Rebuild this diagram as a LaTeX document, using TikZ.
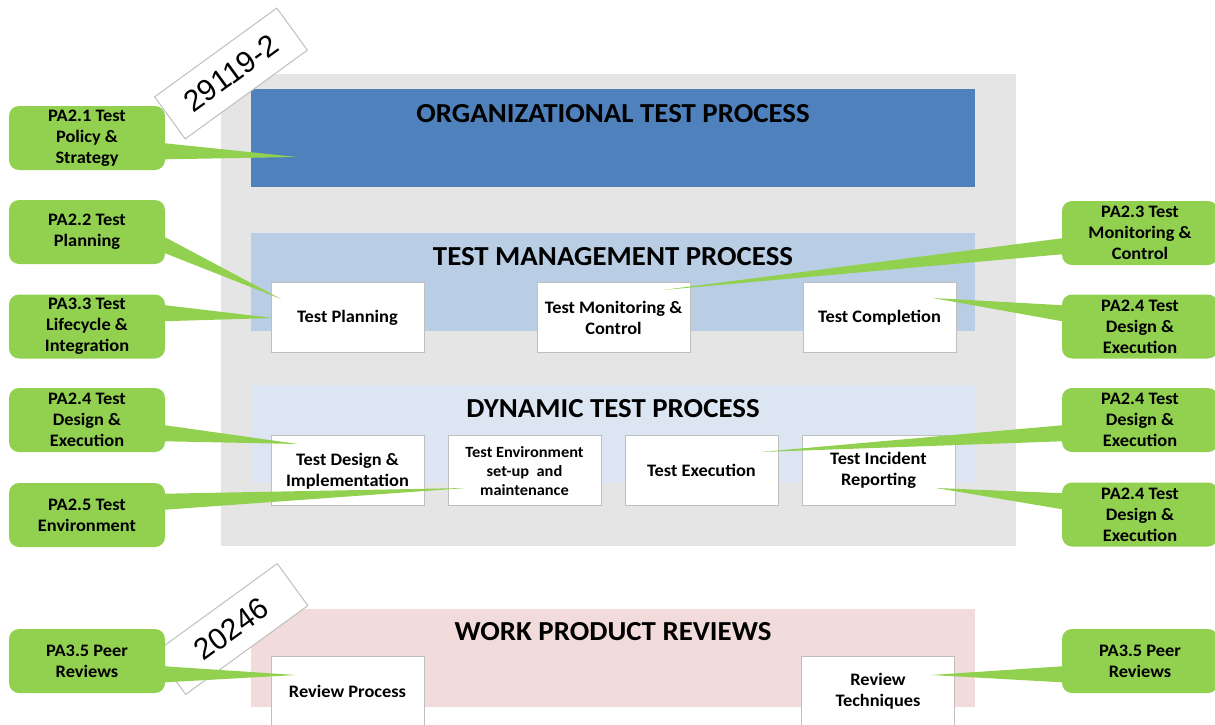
\documentclass[tikz,border=0pt]{standalone}
\usepackage{fontspec}
\setmainfont[FakeStretch=1.05]{Carlito}
\newfontfamily\tagfont{Liberation Sans}
\usetikzlibrary{positioning, calc}
\definecolor{panelgray}{HTML}{E5E5E5}
\definecolor{orgblue}{HTML}{4F81BD}
\definecolor{mgmtblue}{HTML}{B9CDE5}
\definecolor{dynblue}{HTML}{DCE6F2}
\definecolor{reviewpink}{HTML}{F2DCDB}
\definecolor{callgreen}{HTML}{92D050}
\definecolor{edgegray}{HTML}{BFBFBF}
\tikzset{
  band/.style={rectangle, fill=#1, minimum width=724pt, minimum height=98pt,
               inner sep=0pt},
  title/.style={font=\fontsize{27.5}{32}\selectfont\bfseries, inner sep=0pt},
  proc/.style={rectangle, fill=white, draw=edgegray, line width=1pt,
               minimum width=153pt, minimum height=70pt, inner sep=2pt,
               font=\fontsize{17.5}{21}\selectfont\bfseries, align=center},
  smalltext/.style={font=\fontsize{15.6}{19}\selectfont\bfseries},
  callout/.style={rectangle, rounded corners=10pt, fill=callgreen,
                  minimum width=156pt, minimum height=64pt, inner sep=2pt,
                  font=\fontsize{17.5}{21}\selectfont\bfseries, align=center},
  pointer/.style={fill=callgreen},
  stdtag/.style={rectangle, fill=white, draw=edgegray, line width=1pt,
                 minimum width=151pt, minimum height=52pt, rotate=36,
                 font=\tagfont\fontsize{30}{30}\selectfont},
}

\begin{document}
\begin{tikzpicture}[x=1pt, y=-1pt]
  \useasboundingbox (0,0) rectangle (1215,725);
  %% grey panel behind the 29119-2 processes
  \fill[panelgray] (221,74) rectangle (1016,546);
  %% process layers
  \node[band=orgblue]    (org)  at (613,137.5) {};
  \node[band=mgmtblue]   (mgmt) at (613,282)   {};
  \node[band=dynblue]    (dyn)  at (613,433.5) {};
  \node[band=reviewpink] (wpr)  at (613,658)   {};
  \node[title] at ($(org.north)+(0,25)$)  {ORGANIZATIONAL TEST PROCESS};
  \node[title] at ($(mgmt.north)+(0,24)$) {TEST MANAGEMENT PROCESS};
  \node[title] at ($(dyn.north)+(0,24)$)  {DYNAMIC TEST PROCESS};
  \node[title] at ($(wpr.north)+(0,23)$)  {WORK PRODUCT REVIEWS};
  %% standard tags
  \node[stdtag] (std2) at (231,73.5) {29119-2};
  \node[stdtag] (std4) at (231.5,629) {20246};
  %% Test management processes
  \node[proc] (plan) at (347.5,317.5)       {Test Planning};
  \node[proc, right=112pt of plan] (mon)    {Test Monitoring \&\\Control};
  \node[proc, right=112pt of mon]  (compl)  {Test Completion};
  %% Dynamic test processes
  \node[proc] (design) at (347.5,470.8)     {Test Design \&\\Implementation};
  \node[proc, smalltext, right=23pt of design] (env)
    {Test Environment\\set-up~ and\\maintenance};
  \node[proc, right=23pt of env]   (exec)   {Test Execution};
  \node[proc, right=23pt of exec]  (incid)  {Test Incident\\Reporting};
  %% Review processes
  \node[proc] (rproc) at (347.5,691.5)      {Review Process};
  \node[proc] (rtech) at (878,691.5)        {Review\\Techniques};
  %% Process area callouts
  \foreach \c/\x/\y/\txt in {
      c1/87/138/{PA2.1 Test\\Policy \&\\Strategy},
      c2/87/232/{PA2.2 Test\\Planning},
      c3/87/326.5/{PA3.3 Test\\Lifecycle \&\\Integration},
      c4/87/420/{PA2.4 Test\\Design \&\\Execution},
      c5/87/515/{PA2.5 Test\\Environment},
      c6/87/661/{PA3.5 Peer\\Reviews},
      c7/1140/233/{PA2.3 Test\\Monitoring \&\\Control},
      c8/1140/326.5/{PA2.4 Test\\Design \&\\Execution},
      c9/1140/420/{PA2.4 Test\\Design \&\\Execution},
      c10/1140/514.5/{PA2.4 Test\\Design \&\\Execution},
      c11/1140/661/{PA3.5 Peer\\Reviews}}
    \node[callout] (\c) at (\x,\y) {\txt};
  \foreach \c/\x/\y in {c1/297/157, c2/281/299, c3/273/318, c4/298/444,
      c5/466/488, c6/296/675, c7/663/290, c8/933/298, c9/761/452,
      c10/936/488, c11/931/675}
    \coordinate (\c-tip) at (\x,\y);
  \foreach \c/\s/\a/\b in {c1/east/5.3/21.3, c2/east/5.3/21.3,
      c3/east/-21.3/-5.3, c4/east/5.3/21.3, c5/east/-21.3/-5.3,
      c6/east/5.3/21.3, c7/west/5.3/21.3, c8/west/-21.3/-5.3,
      c9/west/5.3/21.3, c10/west/-21.3/-5.3, c11/west/5.3/21.3}
    \fill[pointer] ($(\c.\s)+(0,\a)$) -- (\c-tip) -- ($(\c.\s)+(0,\b)$) -- cycle;
\end{tikzpicture}
\end{document}
